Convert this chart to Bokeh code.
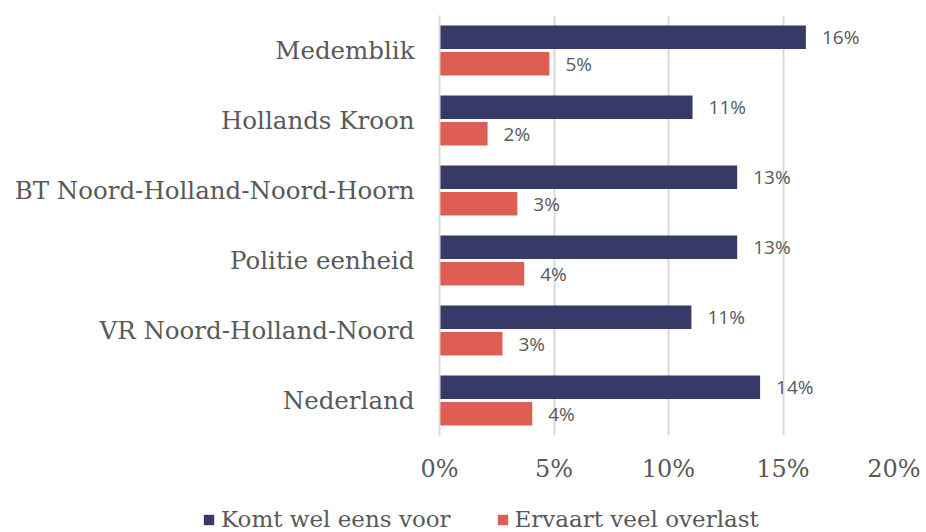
from bokeh.plotting import figure
from bokeh.layouts import column
from bokeh.models import ColumnDataSource, FactorRange, Range1d, FixedTicker, PrintfTickFormatter, Legend, LegendItem
from bokeh.transform import dodge
from bokeh.core.properties import value
from bokeh.embed import file_html
from bokeh.resources import INLINE

categories = ["Medemblik", "Hollands Kroon", "BT Noord-Holland-Noord-Hoorn",
              "Politie eenheid", "VR Noord-Holland-Noord", "Nederland"]
komt = [16.0, 11.05, 13.0, 13.0, 11.0, 14.0]
ervaart = [4.8, 2.1, 3.4, 3.7, 2.75, 4.05]
series_names = ["Komt wel eens voor", "Ervaart veel overlast"]
x_ticks = [0, 5, 10, 15, 20]

dark = "#373a66"
red = "#df5e53"
text_col = "#595959"
serif = "DejaVu Serif"

src = ColumnDataSource(dict(
    cat=categories,
    komt=komt,
    ervaart=ervaart,
    komt_lbl=[f"{round(v)}%" for v in komt],
    ervaart_lbl=[f"{round(v)}%" for v in ervaart],
))

W = 920
p = figure(width=W, height=495, output_backend="svg", toolbar_location=None,
           y_range=FactorRange(factors=list(reversed(categories)), range_padding=0),
           x_range=Range1d(0, 20),
           min_border_left=439, min_border_right=W - 439 - 458, min_border_top=15, min_border_bottom=60)
p.outline_line_color = None
p.background_fill_color = "white"

r1 = p.hbar(y=dodge("cat", 0.19, range=p.y_range), right="komt", left=0, height=0.335,
            source=src, fill_color=dark, line_color=None)
r2 = p.hbar(y=dodge("cat", -0.19, range=p.y_range), right="ervaart", left=0, height=0.335,
            source=src, fill_color=red, line_color=None)

p.text(x="komt", y=dodge("cat", 0.19, range=p.y_range), text="komt_lbl", source=src,
       x_offset=16, text_align="left", text_baseline="middle",
       text_font=value("Open Sans"), text_font_size="19px", text_color=text_col)
p.text(x="ervaart", y=dodge("cat", -0.19, range=p.y_range), text="ervaart_lbl", source=src,
       x_offset=16, text_align="left", text_baseline="middle",
       text_font=value("Open Sans"), text_font_size="19px", text_color=text_col)

# grid
p.ygrid.grid_line_color = None
p.xgrid.grid_line_color = "#d9d9d9"
p.xgrid.grid_line_width = 2
p.xgrid.ticker = FixedTicker(ticks=x_ticks)

# x axis
p.xaxis.ticker = FixedTicker(ticks=x_ticks)
p.xaxis.formatter = PrintfTickFormatter(format="%d%%")
p.xaxis.axis_line_color = None
p.xaxis.major_tick_line_color = None
p.xaxis.minor_tick_line_color = None
p.xaxis.major_label_text_font = serif
p.xaxis.major_label_text_font_size = "24px"
p.xaxis.major_label_text_color = text_col
p.xaxis.major_label_standoff = 13

# y axis
p.yaxis.axis_line_color = "#d9d9d9"
p.yaxis.axis_line_width = 2
p.yaxis.major_tick_line_color = None
p.yaxis.minor_tick_line_color = None
p.yaxis.major_label_text_font = serif
p.yaxis.major_label_text_font_size = "24.5px"
p.yaxis.major_label_text_color = text_col
p.yaxis.major_label_standoff = 19

# legend strip
lg = figure(width=W, height=37, output_backend="svg", toolbar_location=None,
            x_range=Range1d(0, 1), y_range=Range1d(0, 1),
            min_border_left=0, min_border_right=0, min_border_top=0, min_border_bottom=0)
lg.axis.visible = False
lg.grid.visible = False
lg.outline_line_color = None
g1 = lg.hbar(y=[0.5], right=[0], height=0.3, fill_color=dark, line_color=None)
g2 = lg.hbar(y=[0.5], right=[0], height=0.3, fill_color=red, line_color=None)
legend = Legend(items=[LegendItem(label=series_names[0], renderers=[g1]),
                       LegendItem(label=series_names[1], renderers=[g2])],
                orientation="horizontal", location=(202, 0),
                label_text_font=serif, label_text_font_size="23px", label_text_color=text_col,
                glyph_width=13, glyph_height=13, spacing=45, label_standoff=6,
                border_line_color=None, background_fill_alpha=0, padding=0, margin=0)
lg.add_layout(legend, "center")

layout = column(p, column(lg, spacing=0), spacing=0)
open("out.html", "w").write(file_html(layout, INLINE))
